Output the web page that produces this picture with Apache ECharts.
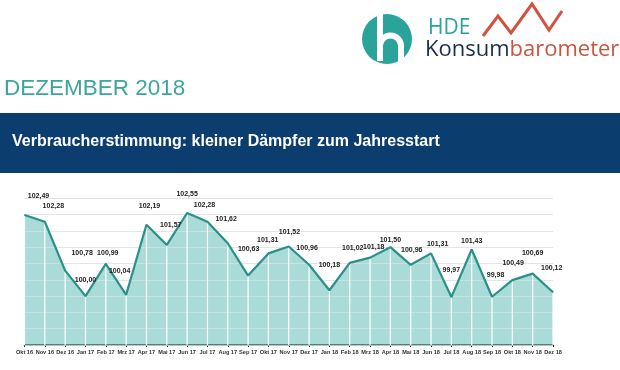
<!DOCTYPE html>
<html><head><meta charset="utf-8">
<script src="https://cdn.jsdelivr.net/npm/echarts@6/dist/echarts.min.js"></script>
<style>html,body{margin:0;padding:0;background:#fff}#c{width:620px;height:370px}</style>
</head><body><div id="c"></div>
<script>
const categories = ['Okt 16','Nov 16','Dez 16','Jan 17','Feb 17','Mrz 17','Apr 17','Mai 17','Jun 17','Jul 17','Aug 17','Sep 17','Okt 17','Nov 17','Dez 17','Jan 18','Feb 18','Mrz 18','Apr 18','Mai 18','Jun 18','Jul 18','Aug 18','Sep 18','Okt 18','Nov 18','Dez 18'];
const values = [102.49,102.28,100.78,100.00,100.99,100.04,102.19,101.57,102.55,102.28,101.62,100.63,101.31,101.52,100.96,100.18,101.02,101.18,101.50,100.96,101.31,99.97,101.43,99.98,100.49,100.69,100.12];
const headline = 'DEZEMBER 2018';
const bannerText = 'Verbraucherstimmung: kleiner Dämpfer zum Jahresstart';
const logoTop = 'HDE';
const logoA = 'Konsum';
const logoB = 'barometer';

// label placement (style only), [dx, dy] of label centre relative to the point
const labelOffsets = [[14,-18],[8.5,-15],[17,-17.4],[0,-16],[2,-10.6],[-6.5,-23],[3,-18.4],[4,-19.5],[0,-18],[-3,-16],[-1.6,-24],[0.5,-25.6],[-0.7,-12.6],[0.7,-14],[-2,-16.6],[0,-25],[3,-14],[3.7,-10],[0,-6.4],[1,-14],[6.6,-8.6],[0,-27],[0,-8],[3.5,-21],[0.8,-17],[0,-20],[-1.3,-24]];

const chart = echarts.init(document.getElementById('c'), null, {renderer:'canvas'});
const fmt = v => v.toFixed(2).replace('.', ',');
const lineData = values.map((v,i)=>({value:v, label:{offset:[labelOffsets[i][0], labelOffsets[i][1]+4]}}));

chart.setOption({
  animation:false,
  backgroundColor:'#fff',
  graphic:[
    {type:'text', style:{x:4, y:89, text:headline, font:'22.5px "Liberation Sans", Arial', fill:'#3aa69c', verticalAlign:'middle'}},
    {type:'rect', shape:{x:0, y:113, width:620, height:60}, style:{fill:'#0c3d6f'}},
    {type:'text', style:{x:12, y:142, text:bannerText, font:'bold 16px "Liberation Sans", Arial', fill:'#fff', verticalAlign:'middle'}},
    {type:'circle', shape:{cx:387, cy:39, r:25}, style:{fill:'#2aa39a'}},
    {type:'line', shape:{x1:380, y1:12, x2:380, y2:61}, style:{stroke:'#fff', lineWidth:6}},
    {type:'arc', shape:{cx:390.5, cy:46, r:10.5, startAngle:Math.PI, endAngle:Math.PI*2, clockwise:true}, style:{stroke:'#fff', lineWidth:6, fill:null}},
    {type:'line', shape:{x1:401, y1:46, x2:401, y2:61}, style:{stroke:'#fff', lineWidth:6}},
    {type:'text', style:{x:428, y:28, text:logoTop, font:'500 21px "Open Sans"', fill:'#2aa39a', verticalAlign:'middle'}},
    {type:'polyline', shape:{points:[[483,36],[498,16],[511,33],[532,4],[549,30],[562,11]]}, style:{stroke:'#d4513f', lineWidth:3, fill:null}},
    {type:'text', style:{x:425, y:50, text:'{a|'+logoA+'}{b|'+logoB+'}', verticalAlign:'middle',
      rich:{a:{font:'500 22px "Open Sans"', fill:'#1b2d4f'}, b:{font:'500 22px "Open Sans"', fill:'#c9553f'}}}}
  ],
  grid:{left:24.5, right:67, top:198.3, bottom:25, containLabel:false},
  xAxis:{type:'category', data:categories, boundaryGap:false,
    axisLine:{lineStyle:{color:'#111', width:1.5}},
    axisTick:{show:true, length:2, lineStyle:{color:'#111'}},
    axisLabel:{interval:0, fontSize:5.6, fontWeight:'bold', color:'#333', margin:4, fontFamily:'"Liberation Sans", Arial'},
    splitLine:{show:false}},
  yAxis:{type:'value', min:98.5, max:103, interval:0.5, z:1.5,
    axisLine:{show:false}, axisTick:{show:false}, axisLabel:{show:false},
    splitLine:{show:true, lineStyle:{color:'rgba(215,225,225,0.8)', width:1}}},
  series:[
    {type:'line', data:values, symbol:'none', z:1, silent:true,
      lineStyle:{width:0}, areaStyle:{color:'rgba(84,186,180,0.5)', opacity:1, origin:'start'}},
    {type:'bar', data:values, barWidth:1.2, z:2, silent:true, itemStyle:{color:'#fff'}},
    {type:'line', data:lineData, z:3, symbol:'circle', symbolSize:1, showSymbol:true,
      itemStyle:{color:'#2a9088'}, lineStyle:{color:'#2a9088', width:2.2},
      label:{show:true, position:'top', distance:0, formatter:p=>fmt(p.value),
        fontSize:7, fontWeight:'bold', color:'#222', lineHeight:8, fontFamily:'"Liberation Sans", Arial'}}
  ]
});
</script></body></html>
